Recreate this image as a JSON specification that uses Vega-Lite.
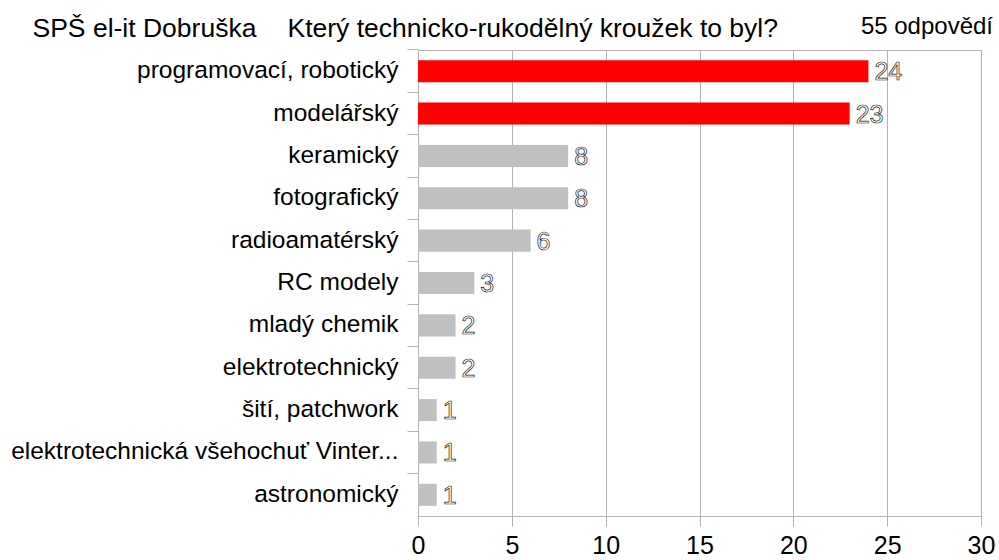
{
  "$schema": "https://vega.github.io/schema/vega-lite/v6.json",
  "autosize": "none",
  "width": 563,
  "height": 466,
  "padding": {"left": 418, "top": 50, "right": 18, "bottom": 44},
  "background": "white",
  "config": {
    "font": "Liberation Sans",
    "view": {"stroke": "#b3b3b3", "strokeWidth": 1}
  },
  "title": {
    "text": "55 odpovědí",
    "anchor": "end",
    "frame": "group",
    "orient": "top",
    "offset": 0,
    "dx": 12,
    "dy": 24,
    "fontSize": 24,
    "fontWeight": "normal",
    "font": "Liberation Sans",
    "color": "#000000"
  },
  "data": {
    "values": [
      {"category": "programovací, robotický", "count": 24},
      {"category": "modelářský", "count": 23},
      {"category": "keramický", "count": 8},
      {"category": "fotografický", "count": 8},
      {"category": "radioamatérský", "count": 6},
      {"category": "RC modely", "count": 3},
      {"category": "mladý chemik", "count": 2},
      {"category": "elektrotechnický", "count": 2},
      {"category": "šití, patchwork", "count": 1},
      {"category": "elektrotechnická všehochuť Vinter...", "count": 1},
      {"category": "astronomický", "count": 1}
    ]
  },
  "encoding": {
    "y": {
      "field": "category",
      "type": "nominal",
      "sort": null,
      "scale": {"paddingInner": 0, "paddingOuter": 0},
      "axis": {
        "title": "SPŠ el-it Dobruška",
        "titleAngle": 0,
        "titleAlign": "left",
        "titleBaseline": "alphabetic",
        "titleX": -386,
        "titleY": -14,
        "titleFontSize": 26.5,
        "titleFontWeight": "normal",
        "titleColor": "#000000",
        "labelFontSize": 24.5,
        "labelColor": "#000000",
        "labelLimit": 600,
        "labelPadding": 9,
        "bandPosition": 0,
        "tickSize": 11,
        "tickColor": "#b3b3b3",
        "domainColor": "#b3b3b3",
        "grid": false
      }
    }
  },
  "layer": [
    {
      "mark": {"type": "bar", "height": {"band": 0.52}},
      "encoding": {
        "x": {
          "field": "count",
          "type": "quantitative",
          "scale": {"domain": [0, 30], "nice": false},
          "axis": {
            "values": [0, 5, 10, 15, 20, 25, 30],
            "title": "Který technicko-rukodělný kroužek to byl?",
            "titleAlign": "left",
            "titleAnchor": "start",
            "titleBaseline": "alphabetic",
            "titleX": -131,
            "titleY": -480,
            "titleFontSize": 26.5,
            "titleFontWeight": "normal",
            "titleColor": "#000000",
            "labelFontSize": 25,
            "labelColor": "#000000",
            "labelPadding": 7,
            "tickSize": 10,
            "tickColor": "#b3b3b3",
            "domainColor": "#b3b3b3",
            "grid": true,
            "gridColor": "#b3b3b3",
            "labelFlush": false
          }
        },
        "color": {
          "condition": {"test": "datum.count >= 20", "value": "#ff0000"},
          "value": "#c0c0c0"
        }
      }
    },
    {
      "mark": {
        "type": "text",
        "align": "left",
        "baseline": "middle",
        "dx": 6,
        "dy": 1,
        "fontSize": 25,
        "fill": "#ffffff",
        "stroke": "#222222",
        "strokeWidth": 0.7
      },
      "encoding": {
        "x": {"field": "count", "type": "quantitative"},
        "text": {"field": "count", "type": "quantitative"}
      }
    }
  ]
}
